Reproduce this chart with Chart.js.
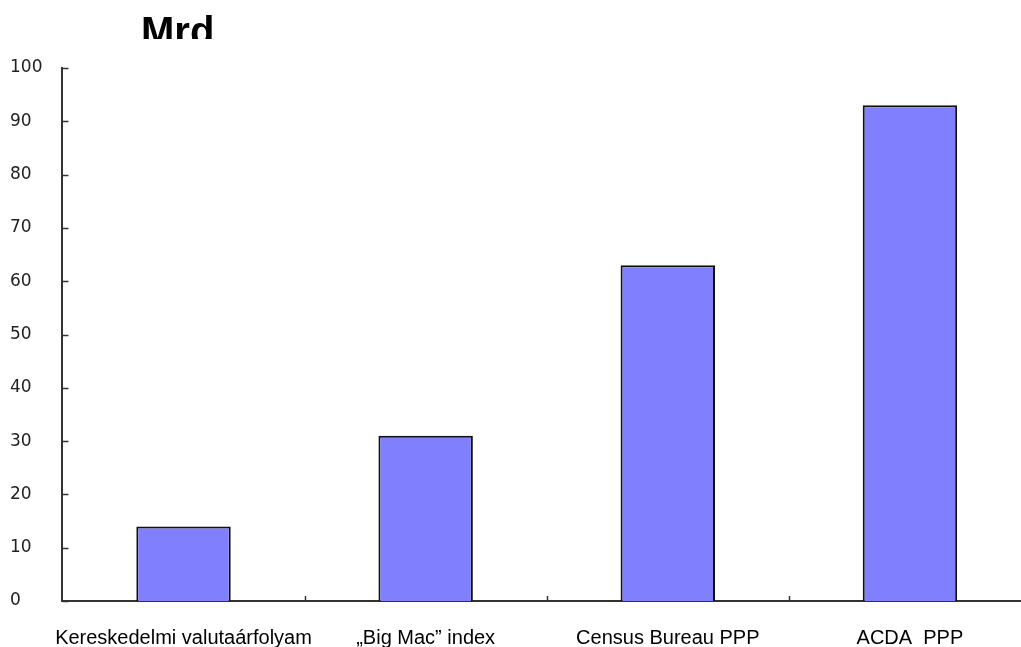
<!DOCTYPE html>
<html>
<head>
<meta charset="utf-8">
<script src="https://cdn.jsdelivr.net/npm/chart.js@4"></script>
<style>
  html, body { margin: 0; padding: 0; background: #fff; overflow: hidden; width: 1021px; height: 647px; }
  #wrap { position: relative; width: 1021px; height: 647px; overflow: hidden; }
  #title { position: absolute; left: 141px; top: 0; height: 39px; overflow: hidden;
           font-family: "Liberation Sans", Arial, sans-serif; font-weight: bold; font-size: 40px;
           line-height: 40px; color: #000; }
  #title span { display: block; margin-top: 11px; }
  canvas { position: absolute; left: 0; top: 0; }
</style>
</head>
<body>
<div id="wrap">
  <canvas id="c" width="1045" height="675"></canvas>
  <div id="title"><span>Mrd</span></div>
</div>
<script>
const categories = ["Kereskedelmi valutaárfolyam", "\u201EBig Mac\u201D index", "Census Bureau PPP", "ACDA  PPP"];
const values = [14, 31, 63, 93];
const yTicks = [0, 10, 20, 30, 40, 50, 60, 70, 80, 90, 100];

const innerTicks = {
  id: 'innerTicks',
  afterDraw(chart) {
    const ctx = chart.ctx, a = chart.chartArea;
    const y = chart.scales.y, x = chart.scales.x;
    ctx.save();
    ctx.strokeStyle = '#333';
    ctx.lineWidth = 1.5;
    ctx.beginPath();
    y.ticks.forEach((t, i) => {
      const py = Math.round(y.getPixelForTick(i)) + 0.5;
      ctx.moveTo(a.left, py);
      ctx.lineTo(a.left + 6, py);
    });
    for (let i = 1; i < categories.length; i++) {
      const px = Math.round((x.getPixelForValue(i - 1) + x.getPixelForValue(i)) / 2) + 0.5;
      ctx.moveTo(px, a.bottom);
      ctx.lineTo(px, a.bottom - 5);
    }
    ctx.stroke();
    ctx.restore();
  }
};

new Chart(document.getElementById('c'), {
  type: 'bar',
  data: {
    labels: categories,
    datasets: [{
      data: values,
      backgroundColor: '#8080ff',
      borderColor: '#111',
      borderWidth: 2,
      barPercentage: 0.39,
      categoryPercentage: 1.0
    }]
  },
  options: {
    responsive: false,
    animation: false,
    layout: { padding: { left: 10, top: 68, right: 14, bottom: 0 } },
    plugins: { legend: { display: false }, tooltip: { enabled: false }, title: { display: false } },
    scales: {
      x: {
        offset: true,
        grid: { display: false, drawTicks: false },
        border: { display: true, color: '#333', width: 2 },
        ticks: {
          color: '#000',
          font: { family: '"Liberation Sans", Arial, sans-serif', size: 20 },
          padding: 25,
          maxRotation: 0, minRotation: 0, autoSkip: false
        }
      },
      y: {
        min: 0, max: 100,
        afterBuildTicks(scale) { scale.ticks = yTicks.map(v => ({ value: v })); },
        grid: { display: false, drawTicks: false },
        border: { display: true, color: '#333', width: 2 },
        ticks: {
          color: '#222',
          crossAlign: 'far',
          padding: 10,
          font: { family: '"DejaVu Sans", Tahoma, sans-serif', size: 17 }
        }
      }
    }
  },
  plugins: [innerTicks]
});
</script>
</body>
</html>
